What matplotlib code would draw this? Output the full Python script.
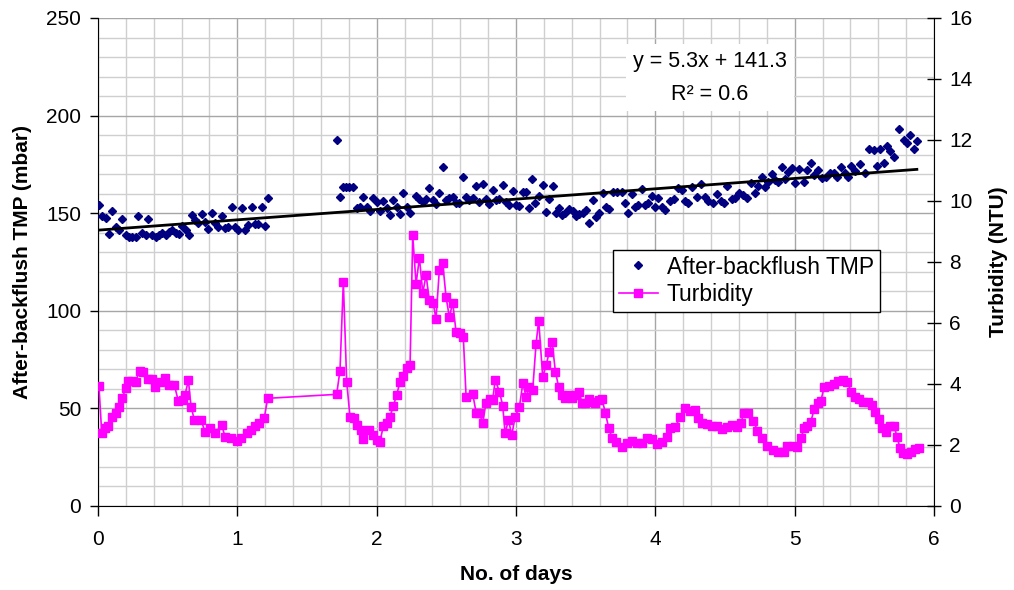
import numpy as np
import matplotlib
matplotlib.use("Agg")
import matplotlib.pyplot as plt

plt.rcParams['font.family'] = ['Liberation Sans', 'DejaVu Sans']

# after-backflush TMP (mbar) vs time (days)
tmp_days = [0.007, 0.031, 0.055, 0.079, 0.103, 0.127, 0.151, 0.175, 0.199, 0.223, 0.246, 0.27, 0.29, 0.318,
            0.342, 0.361, 0.39, 0.414, 0.438, 0.462, 0.486, 0.51, 0.533, 0.558, 0.581, 0.605, 0.63, 0.653,
            0.673, 0.696, 0.72, 0.744, 0.768, 0.792, 0.816, 0.84, 0.864, 0.888, 0.912, 0.935, 0.96, 0.983,
            1.007, 1.032, 1.055, 1.079, 1.103, 1.127, 1.151, 1.175, 1.199, 1.218,
            1.713, 1.737, 1.756, 1.78, 1.804, 1.833, 1.857, 1.881, 1.905, 1.929, 1.953, 1.976, 2.0, 2.024,
            2.048, 2.072, 2.096, 2.12, 2.144, 2.168, 2.192, 2.216, 2.24, 2.283, 2.307, 2.331, 2.355, 2.378,
            2.403, 2.426, 2.45, 2.479, 2.498, 2.522, 2.546, 2.57, 2.594, 2.618, 2.642, 2.666, 2.69, 2.714,
            2.737, 2.762, 2.785, 2.809, 2.833, 2.857, 2.881, 2.905, 2.929, 2.953, 2.977, 3.0, 3.025, 3.049,
            3.073, 3.096, 3.116, 3.139, 3.164, 3.192, 3.216, 3.24, 3.264, 3.288, 3.307, 3.331, 3.355, 3.383,
            3.408, 3.431, 3.455, 3.479, 3.503, 3.522, 3.551, 3.575, 3.599, 3.623, 3.647, 3.671, 3.699, 3.724,
            3.759, 3.783, 3.807, 3.831, 3.855, 3.879, 3.903, 3.927, 3.951, 3.975, 3.999, 4.022, 4.047, 4.07,
            4.106, 4.135, 4.166, 4.19, 4.214, 4.238, 4.262, 4.298, 4.327, 4.357, 4.381, 4.413, 4.441, 4.47,
            4.494, 4.518, 4.549, 4.573, 4.604, 4.632, 4.657, 4.686, 4.716, 4.74, 4.765, 4.788, 4.812, 4.836,
            4.86, 4.884, 4.908, 4.932, 4.955, 4.98, 5.004, 5.034, 5.068, 5.092, 5.116, 5.14, 5.164, 5.195,
            5.226, 5.255, 5.279, 5.307, 5.332, 5.362, 5.386, 5.403, 5.434, 5.47, 5.506, 5.537, 5.566, 5.59,
            5.613, 5.642, 5.662, 5.686, 5.715, 5.752, 5.786, 5.805, 5.829, 5.858, 5.877]
tmp_mbar = [154.2, 148.6, 147.4, 139.3, 151.3, 143.1, 141.4, 147.0, 138.8, 138.0, 138.0, 137.7, 148.6, 139.7,
            138.8, 146.9, 138.8, 138.0, 138.8, 139.7, 138.8, 140.5, 141.4, 139.7, 139.3, 143.4, 141.4, 138.8,
            149.1, 146.5, 144.8, 149.6, 145.6, 141.7, 150.3, 144.8, 143.1, 148.6, 142.2, 143.1, 153.0, 142.8,
            141.4, 152.5, 141.4, 144.0, 153.0, 144.5, 144.5, 153.0, 143.4, 157.6,
            187.5, 158.5, 163.6, 163.6, 163.6, 163.6, 152.5, 153.4, 158.5, 153.0, 151.3, 157.6, 155.9, 151.3,
            156.4, 152.5, 149.1, 156.8, 153.0, 149.6, 160.5, 153.0, 150.3, 158.8, 157.1, 155.9, 157.1, 162.8,
            156.8, 154.7, 160.2, 173.8, 156.8, 157.6, 158.1, 155.4, 155.1, 168.7, 158.1, 156.8, 157.6, 163.9,
            155.9, 165.0, 157.1, 154.7, 161.9, 156.8, 157.1, 164.4, 155.9, 154.2, 161.5, 154.2, 153.7, 161.0,
            161.0, 152.5, 167.4, 155.4, 158.8, 164.4, 150.8, 157.1, 163.9, 150.3, 152.5, 149.1, 149.9, 152.0,
            151.3, 148.6, 149.6, 150.3, 151.6, 144.8, 156.8, 147.9, 150.3, 160.2, 153.0, 152.0, 161.0, 161.0,
            161.0, 155.1, 149.9, 159.8, 153.4, 154.2, 162.2, 154.2, 155.4, 158.8, 153.4, 157.6, 153.0, 151.6,
            156.4, 157.1, 162.8, 161.9, 156.4, 155.4, 163.6, 158.5, 165.0, 158.5, 156.4, 155.4, 159.8, 156.4,
            155.1, 163.9, 157.1, 157.6, 160.2, 159.3, 157.6, 165.3, 160.2, 163.9, 168.4, 163.6, 166.2, 170.1,
            167.0, 166.2, 173.8, 167.4, 171.3, 173.0, 165.3, 172.5, 166.2, 172.1, 175.6, 169.6, 172.1, 167.9,
            168.7, 170.8, 170.5, 168.7, 173.5, 170.8, 168.4, 174.2, 171.8, 175.2, 170.8, 182.7, 182.4, 174.2,
            182.7, 175.9, 184.4, 182.0, 178.6, 193.0, 187.5, 185.8, 190.1, 182.7, 187.1]

# turbidity (NTU) vs time (days)
turb_days = [0.007, 0.027, 0.05, 0.074, 0.103, 0.127, 0.151, 0.175, 0.199, 0.218, 0.246, 0.27, 0.301, 0.325,
             0.357, 0.385, 0.409, 0.445, 0.481, 0.51, 0.548, 0.577, 0.612, 0.625, 0.649, 0.668, 0.692, 0.74,
             0.768, 0.804, 0.84, 0.888, 0.912, 0.955, 0.995, 1.03, 1.067, 1.098, 1.127, 1.156, 1.194, 1.218,
             1.713, 1.737, 1.761, 1.785, 1.809, 1.838, 1.857, 1.886, 1.905, 1.948, 1.976, 2.0, 2.024, 2.048,
             2.072, 2.096, 2.12, 2.144, 2.168, 2.192, 2.216, 2.24, 2.259, 2.283, 2.307, 2.331, 2.355, 2.378,
             2.407, 2.426, 2.45, 2.474, 2.498, 2.522, 2.546, 2.57, 2.599, 2.622, 2.642, 2.69, 2.714, 2.737,
             2.762, 2.785, 2.814, 2.833, 2.851, 2.881, 2.905, 2.922, 2.946, 2.97, 2.994, 3.025, 3.049, 3.073,
             3.096, 3.12, 3.144, 3.163, 3.192, 3.216, 3.24, 3.259, 3.283, 3.307, 3.331, 3.355, 3.379, 3.403,
             3.427, 3.451, 3.475, 3.498, 3.523, 3.546, 3.57, 3.594, 3.618, 3.642, 3.666, 3.69, 3.719, 3.76,
             3.795, 3.831, 3.867, 3.903, 3.939, 3.975, 4.011, 4.047, 4.083, 4.106, 4.142, 4.178, 4.214, 4.25,
             4.286, 4.309, 4.334, 4.37, 4.406, 4.441, 4.477, 4.513, 4.549, 4.585, 4.614, 4.637, 4.668, 4.704,
             4.733, 4.765, 4.8, 4.843, 4.884, 4.92, 4.948, 4.987, 5.02, 5.045, 5.068, 5.092, 5.116, 5.14,
             5.164, 5.188, 5.212, 5.243, 5.279, 5.314, 5.35, 5.379, 5.403, 5.434, 5.465, 5.494, 5.523, 5.554,
             5.578, 5.602, 5.626, 5.657, 5.686, 5.715, 5.734, 5.757, 5.781, 5.805, 5.834, 5.865, 5.889]
turb_ntu = [3.94, 2.40, 2.55, 2.62, 2.93, 3.06, 3.26, 3.53, 3.86, 4.10, 4.10, 4.08, 4.44, 4.40,
            4.15, 4.15, 3.91, 4.08, 4.19, 3.97, 3.97, 3.44, 3.47, 3.64, 4.13, 3.26, 2.82, 2.82,
            2.44, 2.55, 2.38, 2.66, 2.27, 2.22, 2.14, 2.22, 2.38, 2.49, 2.62, 2.71, 2.90, 3.53,
            3.66, 4.44, 7.35, 4.08, 2.91, 2.87, 2.66, 2.49, 2.19, 2.49, 2.33, 2.16, 2.11, 2.62,
            2.71, 2.93, 3.28, 3.64, 4.08, 4.26, 4.51, 4.62, 8.87, 7.28, 8.14, 6.99, 7.57, 6.75,
            6.64, 6.12, 7.74, 7.98, 6.86, 6.19, 6.67, 5.71, 5.68, 5.55, 3.58, 3.67, 3.06, 3.04,
            2.73, 3.39, 3.50, 3.48, 4.13, 3.75, 3.29, 2.38, 2.82, 2.33, 2.92, 3.26, 4.02, 3.58,
            3.91, 3.80, 5.31, 6.08, 4.22, 4.62, 5.06, 5.39, 4.40, 3.89, 3.64, 3.53, 3.64, 3.53,
            3.64, 3.75, 3.39, 3.37, 3.50, 3.42, 3.37, 3.48, 3.50, 3.04, 2.55, 2.22, 2.11, 1.95,
            2.08, 2.14, 2.05, 2.05, 2.24, 2.19, 2.03, 2.11, 2.27, 2.55, 2.58, 2.91, 3.20, 3.12,
            3.15, 2.87, 2.73, 2.69, 2.62, 2.62, 2.51, 2.58, 2.66, 2.58, 2.73, 3.06, 3.04, 2.80,
            2.47, 2.22, 1.97, 1.84, 1.78, 1.78, 1.97, 1.97, 1.95, 2.22, 2.55, 2.62, 2.76, 3.17,
            3.39, 3.44, 3.91, 3.93, 4.00, 4.11, 4.13, 4.08, 3.75, 3.58, 3.50, 3.42, 3.42, 3.31,
            3.09, 2.84, 2.55, 2.44, 2.62, 2.62, 2.27, 1.89, 1.73, 1.70, 1.78, 1.86, 1.89]

# linear trendline shown on chart
trend_slope = 5.3
trend_intercept = 141.3

fig = plt.figure(figsize=(10.14, 5.9), dpi=100)
ax = fig.add_axes([0.0966, 0.1424, 0.8245, 0.8271])
ax2 = ax.twinx()

# grid
ax.set_xlim(0, 6)
ax.set_ylim(0, 250)
ax.set_xticks(np.arange(0, 7, 1))
ax.set_xticks(np.arange(0, 6.01, 0.2), minor=True)
ax.set_yticks(np.arange(0, 251, 50))
ax.set_yticks(np.arange(0, 251, 10), minor=True)
ax.grid(which='minor', color='#cfcfcf', lw=1.0, zorder=0)
ax.grid(which='major', color='#a6a6a6', lw=1.0, zorder=0)
ax.set_axisbelow(True)

ax.plot(tmp_days, tmp_mbar, linestyle='none', marker='D', ms=4.4, color='#000080',
        label='After-backflush TMP', zorder=3)
tx = np.array([0, max(tmp_days)])
ax.plot(tx, trend_slope * tx + trend_intercept, color='black', lw=2.0, zorder=4)

ax2.set_ylim(0, 16)
ax2.set_yticks(np.arange(0, 17, 2))
ax2.plot(turb_days, turb_ntu, color='#ff00ff', lw=1.2, marker='s', ms=5.5,
         label='Turbidity', zorder=3)

for a in (ax, ax2):
    a.spines['top'].set_visible(False)
ax.spines['right'].set_visible(False)
ax2.spines['left'].set_visible(False)
ax2.spines['bottom'].set_visible(False)

ax.tick_params(which='minor', length=0)
ax.tick_params(axis='y', which='major', direction='out', length=6, width=1, labelsize=15, pad=6)
ax.tick_params(axis='x', which='major', direction='out', length=7, width=1, labelsize=15, pad=10)
ax2.tick_params(axis='y', direction='inout', length=10, width=1, labelsize=15, pad=6)

ax.set_xlabel('No. of days', fontsize=15, fontweight='bold', labelpad=12)
ax.set_ylabel('After-backflush TMP (mbar)', fontsize=15, fontweight='bold', labelpad=10)
ax2.set_ylabel('Turbidity (NTU)', fontsize=15, fontweight='bold', labelpad=12)

ax2.text(0.732, 0.878, 'y = 5.3x + 141.3\nR² = 0.6', transform=ax2.transAxes,
         ha='center', va='center', fontsize=15.5, linespacing=1.75,
         bbox=dict(facecolor='white', edgecolor='none', pad=5), zorder=6)

h1, l1 = ax.get_legend_handles_labels()
h2, l2 = ax2.get_legend_handles_labels()
leg = ax2.legend(h1 + h2, l1 + l2, loc='upper left', bbox_to_anchor=(0.616, 0.525),
                 fontsize=16.5, frameon=True, fancybox=False, framealpha=1,
                 edgecolor='black', handlelength=1.7, borderpad=0.25, labelspacing=0.2,
                 handletextpad=0.4, borderaxespad=0)
leg.get_frame().set_linewidth(1.0)
leg.set_zorder(7)

fig.savefig('out.png', dpi=100)
